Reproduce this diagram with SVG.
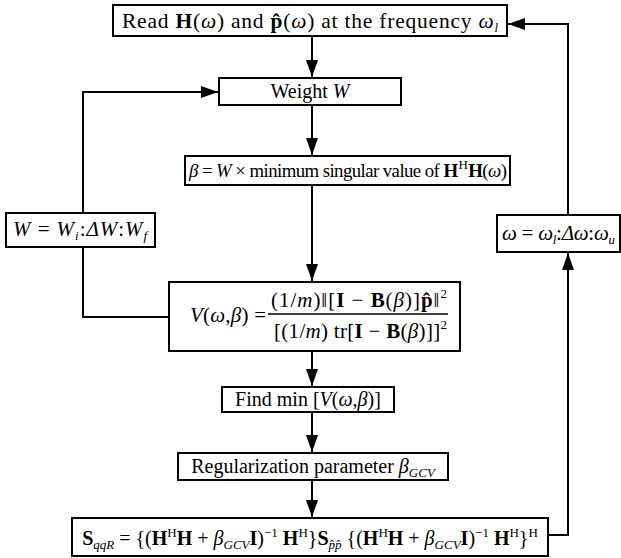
<svg xmlns="http://www.w3.org/2000/svg" width="621" height="558" viewBox="0 0 621 558">
<style>
text{font-family:'Liberation Serif','Times New Roman',Times,serif;font-size:20px;fill:#000}
.b{font-weight:bold}
.i{font-style:italic}
.s{font-size:13px}
.box{fill:#fff;stroke:#000;stroke-width:2}
.ln{fill:none;stroke:#000;stroke-width:2}
</style>
<defs>
<marker id="ah" markerUnits="userSpaceOnUse" markerWidth="17" markerHeight="12" refX="17" refY="6" orient="auto">
<path d="M0,0 L17,6 L0,12 z" fill="#000"/>
</marker>
</defs>
<rect width="621" height="558" fill="#fff"/>
<g id="connectors">
<line class="ln" x1="312" y1="36" x2="312" y2="77" marker-end="url(#ah)"/>
<line class="ln" x1="312" y1="105" x2="312" y2="155" marker-end="url(#ah)"/>
<line class="ln" x1="312" y1="185" x2="312" y2="281" marker-end="url(#ah)"/>
<line class="ln" x1="312" y1="351" x2="312" y2="386" marker-end="url(#ah)"/>
<line class="ln" x1="312" y1="412" x2="312" y2="452" marker-end="url(#ah)"/>
<line class="ln" x1="312" y1="480" x2="312" y2="517" marker-end="url(#ah)"/>
<polyline class="ln" points="548,535 568,535 568,253" marker-end="url(#ah)"/>
<polyline class="ln" points="568,215 568,24 508,24" marker-end="url(#ah)"/>
<polyline class="ln" points="169,317 83,317 83,247"/>
<polyline class="ln" points="83,213 83,92 218,92" marker-end="url(#ah)"/>
</g>
<g id="read">
<rect class="box" x="113" y="5" width="394" height="31"/>
<text x="122" y="28" style="font-size:21.5px" textLength="376" lengthAdjust="spacing">Read <tspan class="b">H</tspan>(<tspan class="i">ω</tspan>) and <tspan class="b">p̂</tspan>(<tspan class="i">ω</tspan>) at the frequency <tspan class="i">ω</tspan><tspan class="i s" dy="4">l</tspan></text>
</g>
<g id="weight">
<rect class="box" x="219" y="78" width="182" height="27"/>
<text x="310" y="98" text-anchor="middle">Weight <tspan class="i">W</tspan></text>
</g>
<g id="beta">
<rect class="box" x="185" y="156" width="325" height="29"/>
<text x="189" y="177" style="font-size:18.8px" textLength="318" lengthAdjust="spacing"><tspan class="i">β</tspan> = <tspan class="i">W</tspan> × minimum singular value of <tspan class="b">H</tspan><tspan class="s" dy="-8" dx="1">H</tspan><tspan class="b" dy="8" dx="1">H</tspan>(<tspan class="i">ω</tspan>)</text>
</g>
<g id="wrange">
<rect class="box" x="6" y="213" width="149" height="34"/>
<text x="13" y="236" style="font-size:21px" textLength="134" lengthAdjust="spacing"><tspan class="i">W</tspan> = <tspan class="i">W</tspan><tspan class="i s" dy="4">i</tspan><tspan dy="-4">:</tspan><tspan class="i">ΔW</tspan>:<tspan class="i">W</tspan><tspan class="i s" dy="4">f</tspan></text>
</g>
<g id="gcv">
<rect class="box" x="169" y="282" width="291" height="69"/>
<text x="190" y="322" style="font-size:21px" textLength="76" lengthAdjust="spacing"><tspan class="i">V</tspan>(<tspan class="i">ω</tspan>,<tspan class="i">β</tspan>) =</text>
<line x1="268" y1="314" x2="448" y2="314" stroke="#000" stroke-width="1.5"/>
<text x="271" y="307" style="font-size:21px" textLength="176" lengthAdjust="spacing">(1/<tspan class="i">m</tspan>)‖[<tspan class="b">I</tspan> − <tspan class="b">B</tspan>(<tspan class="i">β</tspan>)]<tspan class="b">p̂</tspan>‖<tspan class="s" dy="-9">2</tspan></text>
<text x="274" y="338" style="font-size:21px" textLength="173" lengthAdjust="spacing">[(1/<tspan class="i">m</tspan>) tr[<tspan class="b">I</tspan> − <tspan class="b">B</tspan>(<tspan class="i">β</tspan>)]]<tspan class="s" dy="-9">2</tspan></text>
</g>
<g id="wfreq">
<rect class="box" x="497" y="215" width="123" height="37"/>
<text x="502" y="240" style="font-size:21px" textLength="113" lengthAdjust="spacing"><tspan class="i">ω</tspan> = <tspan class="i">ω</tspan><tspan class="i s" dy="4">l</tspan><tspan dy="-4">:</tspan><tspan class="i">Δω</tspan>:<tspan class="i">ω</tspan><tspan class="i s" dy="4">u</tspan></text>
</g>
<g id="findmin">
<rect class="box" x="222" y="387" width="172" height="25"/>
<text x="308" y="406" text-anchor="middle">Find min [<tspan class="i">V</tspan>(<tspan class="i">ω</tspan>,<tspan class="i">β</tspan>)]</text>
</g>
<g id="reg">
<rect class="box" x="178" y="453" width="270" height="27"/>
<text x="313" y="473" text-anchor="middle">Regularization parameter <tspan class="i">β</tspan><tspan class="i s" dy="4">GCV</tspan></text>
</g>
<g id="result">
<rect class="box" x="72" y="518" width="476" height="38"/>
<text x="310" y="545" text-anchor="middle"><tspan class="b">S</tspan><tspan class="i s" dy="4">qqR</tspan><tspan dy="-4"> = {(</tspan><tspan class="b">H</tspan><tspan class="s" dy="-8">H</tspan><tspan class="b" dy="8">H</tspan> + <tspan class="i">β</tspan><tspan class="i s" dy="4">GCV</tspan><tspan class="b" dy="-4">I</tspan>)<tspan class="s" dy="-8">−1</tspan><tspan class="b" dy="8"> H</tspan><tspan class="s" dy="-8">H</tspan><tspan dy="8">}</tspan><tspan class="b">S</tspan><tspan class="i s" dy="4">p̂p̂</tspan><tspan dy="-4"> {(</tspan><tspan class="b">H</tspan><tspan class="s" dy="-8">H</tspan><tspan class="b" dy="8">H</tspan> + <tspan class="i">β</tspan><tspan class="i s" dy="4">GCV</tspan><tspan class="b" dy="-4">I</tspan>)<tspan class="s" dy="-8">−1</tspan><tspan class="b" dy="8"> H</tspan><tspan class="s" dy="-8">H</tspan><tspan dy="8">}</tspan><tspan class="s" dy="-8">H</tspan></text>
</g>
</svg>
